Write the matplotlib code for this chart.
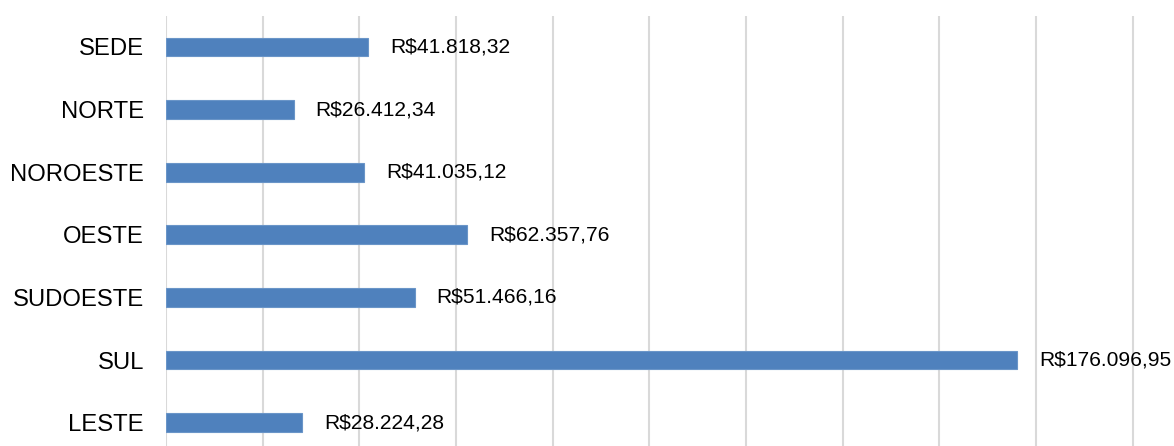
import matplotlib.pyplot as plt
import numpy as np

plt.rcParams['font.family'] = ['Liberation Sans', 'DejaVu Sans']

regioes = ["SEDE", "NORTE", "NOROESTE", "OESTE", "SUDOESTE", "SUL", "LESTE"]
valores = [41818.32, 26412.34, 41035.12, 62357.76, 51466.16, 176096.95, 28224.28]


def brl(v):
    # formato brasileiro: R$1.234,56
    s = f"{v:,.2f}"
    s = s.replace(",", "X").replace(".", ",").replace("X", ".")
    return "R$" + s


fig = plt.figure(figsize=(11.74, 4.46), dpi=100)
ax = fig.add_axes([166 / 1174, -8 / 446, 969 / 1174, 438.4 / 446])

y = np.arange(len(regioes))
ax.barh(y, valores, height=0.3, color="#4F81BD", edgecolor="#6A95C8",
        linewidth=0.8, zorder=3)

for yi, v in zip(y, valores):
    ax.annotate(brl(v), xy=(v, yi), xytext=(15.8, 0), textcoords="offset points",
                va="center", ha="left", fontsize=15.1, color="black")

ax.set_yticks(y)
ax.set_yticklabels(regioes, fontsize=17.2)
ax.set_ylim(len(regioes) - 0.5, -0.5)

ax.set_xlim(0, 200500)
ax.set_xticks(np.arange(0, 200001, 20000))
ax.tick_params(axis="x", labelbottom=False, length=0)
ax.tick_params(axis="y", length=0, pad=15.8)
ax.grid(axis="x", color="#D9D9D9", linewidth=1.5, zorder=0)

for s in ax.spines.values():
    s.set_visible(False)

fig.savefig("out.png", dpi=100)
